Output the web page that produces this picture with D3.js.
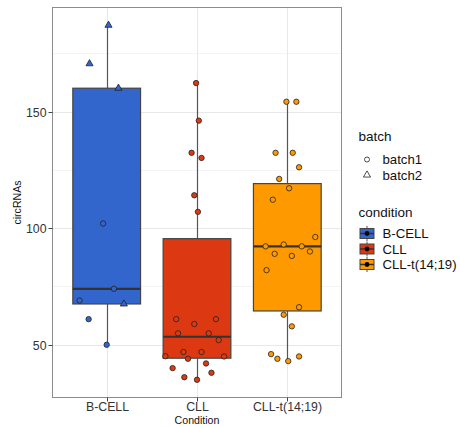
<!DOCTYPE html>
<html>
<head>
<meta charset="utf-8">
<script src="https://cdn.jsdelivr.net/npm/d3@7"></script>
<style>
  html, body { margin: 0; padding: 0; background: #fff; }
  svg { display: block; font-family: "Liberation Sans", Arial, Helvetica, sans-serif; }
</style>
</head>
<body>
<svg id="chart" width="460" height="427"></svg>
<script>
// circRNA counts per sample, grouped by condition
const categories = ["B-CELL", "CLL", "CLL-t(14;19)"];
const colors = ["#3366CC", "#DC3912", "#FF9900"];
const batches = ["batch1", "batch2"];
const yTicks = [50, 100, 150];

const bcellValues = [187, 170.5, 160, 102, 74, 69, 67.5, 61, 50];
const bcellBatch  = [2, 2, 2, 1, 1, 1, 2, 1, 1];
const bcellJitter = [0.02, -0.19, 0.13, -0.04, 0.08, -0.30, 0.19, -0.20, 0.00];

const cllValues = [162.2, 146.1, 132.3, 130.1, 114.1, 107, 61, 58.9, 61, 54.9, 54.9,
                   52, 46.9, 46.9, 45.1, 45, 44, 42, 40, 38, 36.1, 35];
const cllBatch  = [1, 1, 1, 1, 1, 1, 1, 1, 1, 1, 1, 1, 1, 1, 1, 1, 1, 1, 1, 1, 1, 1];
const cllJitter = [-0.01, 0.02, -0.06, 0.05, -0.03, 0.01, -0.23, -0.03, 0.21, -0.21, 0.13,
                   0.24, -0.15, 0.05, -0.35, 0.30, -0.10, 0.10, -0.27, 0.16, -0.14, 0.00];

const clltValues = [154.2, 154.2, 132.3, 132.3, 126.1, 121.1, 117.1, 112.2, 96.2, 93, 92.2, 92.2,
                    90, 89, 88.1, 82, 66.1, 62.9, 57.9, 46, 45, 44, 43];
const clltBatch  = [1, 1, 1, 1, 1, 1, 1, 1, 1, 1, 1, 1, 1, 1, 1, 1, 1, 1, 1, 1, 1, 1, 1];
const clltJitter = [-0.01, 0.10, -0.13, 0.06, 0.13, -0.09, 0.02, -0.16, 0.31, -0.04, -0.24, 0.16,
                    0.25, -0.14, 0.05, -0.23, 0.13, -0.04, 0.05, -0.18, 0.13, -0.11, 0.01];

const groups = [
  { name: categories[0], color: colors[0], values: bcellValues, batch: bcellBatch, jitter: bcellJitter },
  { name: categories[1], color: colors[1], values: cllValues,   batch: cllBatch,   jitter: cllJitter },
  { name: categories[2], color: colors[2], values: clltValues,  batch: clltBatch,  jitter: clltJitter }
];

const svg = d3.select("#chart");
const panel = { left: 52.5, right: 341.5, top: 7.5, bottom: 397.5 };

// y domain: data range with 5% expansion on each side
const allValues = groups.flatMap(g => g.values);
const [vmin, vmax] = d3.extent(allValues);
const pad = (vmax - vmin) * 0.05;
const y = d3.scaleLinear().domain([vmin - pad, vmax + pad]).range([panel.bottom, panel.top]);

// discrete x with 0.6 expansion on each side
const x = d3.scalePoint().domain(categories).range([panel.left, panel.right]).padding(0.6);
const step = x.step();

// grid
const grid = svg.append("g");
const minorTicks = [];
for (let i = 0; i < yTicks.length - 1; i++) minorTicks.push((yTicks[i] + yTicks[i + 1]) / 2);
minorTicks.push(yTicks[yTicks.length - 1] + (yTicks[1] - yTicks[0]) / 2);
minorTicks.filter(t => t > y.domain()[0] && t < y.domain()[1]).forEach(t => {
  grid.append("line").attr("x1", panel.left).attr("x2", panel.right)
    .attr("y1", Math.round(y(t)) + 0.5).attr("y2", Math.round(y(t)) + 0.5)
    .attr("stroke", "#f4f4f4").attr("stroke-width", 1);
});
yTicks.forEach(t => {
  grid.append("line").attr("x1", panel.left).attr("x2", panel.right)
    .attr("y1", Math.round(y(t)) + 0.5).attr("y2", Math.round(y(t)) + 0.5)
    .attr("stroke", "#e8e8e8").attr("stroke-width", 1);
});
categories.forEach(c => {
  grid.append("line").attr("x1", Math.round(x(c)) + 0.5).attr("x2", Math.round(x(c)) + 0.5)
    .attr("y1", panel.top).attr("y2", panel.bottom)
    .attr("stroke", "#e8e8e8").attr("stroke-width", 1);
});

// boxplots
const boxW = step * 0.75;
const boxes = svg.append("g");
groups.forEach(g => {
  const s = g.values.slice().sort(d3.ascending);
  const q1 = d3.quantile(s, 0.25), med = d3.quantile(s, 0.5), q3 = d3.quantile(s, 0.75);
  const iqr = q3 - q1;
  const lo = d3.min(s.filter(v => v >= q1 - 1.5 * iqr));
  const hi = d3.max(s.filter(v => v <= q3 + 1.5 * iqr));
  const cx = Math.round(x(g.name)) + 0.5;
  boxes.append("line").attr("x1", cx).attr("x2", cx).attr("y1", y(hi)).attr("y2", y(q3))
    .attr("stroke", "#555").attr("stroke-width", 1.2);
  boxes.append("line").attr("x1", cx).attr("x2", cx).attr("y1", y(q1)).attr("y2", y(lo))
    .attr("stroke", "#555").attr("stroke-width", 1.2);
  boxes.append("rect").attr("x", x(g.name) - boxW / 2).attr("y", y(q3))
    .attr("width", boxW).attr("height", y(q1) - y(q3))
    .attr("fill", g.color).attr("stroke", "#444").attr("stroke-width", 1.2);
  boxes.append("line").attr("x1", x(g.name) - boxW / 2).attr("x2", x(g.name) + boxW / 2)
    .attr("y1", y(med)).attr("y2", y(med))
    .attr("stroke", "#333").attr("stroke-width", 2.2);
});

// jittered sample points
const tri = d3.symbol().type(d3.symbolTriangle).size(22);
const pts = svg.append("g");
groups.forEach(g => {
  g.values.forEach((v, i) => {
    const px = x(g.name) + g.jitter[i] * step;
    const py = y(v);
    if (g.batch[i] === 1) {
      pts.append("circle").attr("cx", px).attr("cy", py).attr("r", 2.7)
        .attr("fill", g.color).attr("stroke", "#222").attr("stroke-width", 0.8);
    } else {
      pts.append("path").attr("d", tri).attr("transform", `translate(${px},${py})`)
        .attr("fill", g.color).attr("stroke", "#222").attr("stroke-width", 0.8);
    }
  });
});

// panel border
svg.append("rect").attr("x", panel.left).attr("y", panel.top)
  .attr("width", panel.right - panel.left).attr("height", panel.bottom - panel.top)
  .attr("fill", "none").attr("stroke", "#8c8c8c").attr("stroke-width", 1);

// y axis
const yAxis = svg.append("g");
yTicks.forEach(t => {
  const ty = Math.round(y(t)) + 0.5;
  yAxis.append("line").attr("x1", panel.left - 4).attr("x2", panel.left).attr("y1", ty).attr("y2", ty)
    .attr("stroke", "#444").attr("stroke-width", 1);
  yAxis.append("text").attr("x", panel.left - 6).attr("y", ty).attr("dy", "0.36em")
    .attr("text-anchor", "end").attr("font-size", 12.3).attr("fill", "#333").text(t);
});
svg.append("text").attr("transform", `translate(17.5,${(panel.top + panel.bottom) / 2}) rotate(-90)`)
  .attr("text-anchor", "middle").attr("dy", "0.36em").attr("font-size", 10.6).attr("fill", "#111")
  .text("circRNAs");

// x axis
const xAxis = svg.append("g");
categories.forEach(c => {
  const tx = Math.round(x(c)) + 0.5;
  xAxis.append("line").attr("x1", tx).attr("x2", tx).attr("y1", panel.bottom).attr("y2", panel.bottom + 4)
    .attr("stroke", "#444").attr("stroke-width", 1);
  xAxis.append("text").attr("x", tx).attr("y", 411).attr("text-anchor", "middle")
    .attr("font-size", 12.3).attr("fill", "#333").text(c);
});
svg.append("text").attr("x", (panel.left + panel.right) / 2).attr("y", 424)
  .attr("text-anchor", "middle").attr("font-size", 10.6).attr("fill", "#111").text("Condition");

// legends
const lg = svg.append("g");
const keyX = 358.5, keyW = 17, keyCx = keyX + keyW / 2, textX = 382.5;
lg.append("text").attr("x", keyX).attr("y", 140.5).attr("font-size", 13.5).attr("fill", "#111").text("batch");
batches.forEach((b, i) => {
  const cy = 159.5 + i * 15.5;
  if (i === 0) {
    lg.append("circle").attr("cx", keyCx).attr("cy", cy).attr("r", 2.5)
      .attr("fill", "#fff").attr("stroke", "#222").attr("stroke-width", 0.8);
  } else {
    lg.append("path").attr("d", tri).attr("transform", `translate(${keyCx},${cy})`)
      .attr("fill", "#fff").attr("stroke", "#222").attr("stroke-width", 0.8);
  }
  lg.append("text").attr("x", textX).attr("y", cy).attr("dy", "0.36em")
    .attr("font-size", 13.2).attr("fill", "#111").text(b);
});
lg.append("text").attr("x", keyX).attr("y", 216.5).attr("font-size", 13.5).attr("fill", "#111").text("condition");
categories.forEach((c, i) => {
  const cy = 233.5 + i * 15.5;
  lg.append("line").attr("x1", keyCx).attr("x2", keyCx).attr("y1", cy - 7.5).attr("y2", cy + 7.5)
    .attr("stroke", "#555").attr("stroke-width", 1);
  lg.append("rect").attr("x", keyX + 1.5).attr("y", cy - 5).attr("width", keyW - 3).attr("height", 10)
    .attr("fill", colors[i]).attr("stroke", "#444").attr("stroke-width", 1);
  lg.append("line").attr("x1", keyX + 1.5).attr("x2", keyX + keyW - 1.5).attr("y1", cy).attr("y2", cy)
    .attr("stroke", "#333").attr("stroke-width", 1.5);
  lg.append("circle").attr("cx", keyCx).attr("cy", cy).attr("r", 2.4).attr("fill", "#000");
  lg.append("text").attr("x", textX).attr("y", cy).attr("dy", "0.36em")
    .attr("font-size", 13.2).attr("fill", "#111").text(c);
});
</script>
</body>
</html>
